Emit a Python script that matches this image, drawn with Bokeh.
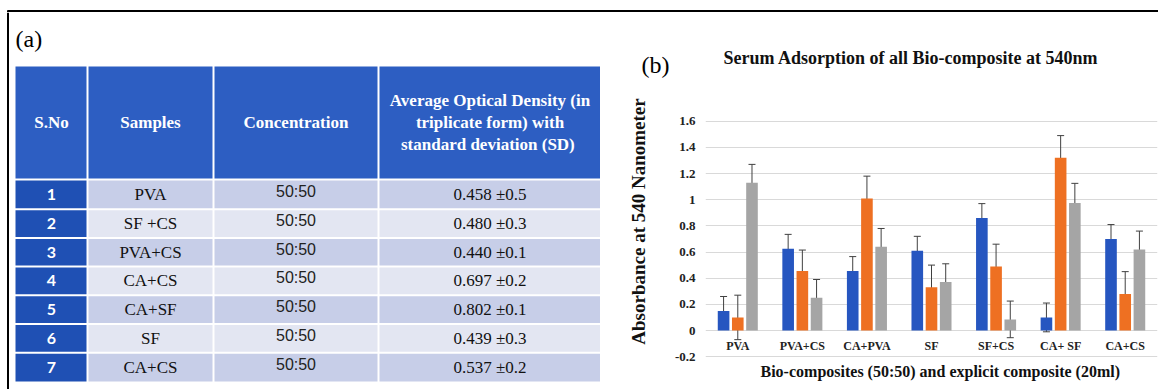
from bokeh.plotting import figure
from bokeh.models import (Range1d, FixedTicker, NumeralTickFormatter, Whisker, FactorRange,
                          ColumnDataSource, TeeHead, Title)
from bokeh.transform import dodge
from bokeh.layouts import row, column
from bokeh.core.properties import value
from bokeh.embed import file_html
from bokeh.resources import INLINE

# ---------------- data: table (a) ----------------
table_headers = ["S.No", "Samples", "Concentration"]
od_header_lines = ["Average Optical Density (in", "triplicate form) with", "standard deviation  (SD)"]
sno = ["1", "2", "3", "4", "5", "6", "7"]
samples = ["PVA", "SF +CS", "PVA+CS", "CA+CS", "CA+SF", "SF", "CA+CS"]
concentration = ["50:50", "50:50", "50:50", "50:50", "50:50", "50:50", "50:50"]
optical_density = ["0.458 \u00b10.5", "0.480 \u00b10.3", "0.440 \u00b10.1", "0.697 \u00b10.2",
                   "0.802 \u00b10.1", "0.439 \u00b10.3", "0.537 \u00b10.2"]

# ---------------- data: chart (b) ----------------
chart_title = "Serum Adsorption of all Bio-composite at 540nm"
x_label = "Bio-composites (50:50) and explicit composite (20ml)"
y_label = "Absorbance at 540 Nanometer"
categories = ["PVA", "PVA+CS", "CA+PVA", "SF", "SF+CS", "CA+ SF", "CA+CS"]
series_blue = [0.15, 0.625, 0.455, 0.61, 0.86, 0.10, 0.70]
sd_blue = [0.11, 0.11, 0.11, 0.11, 0.11, 0.11, 0.11]
series_orange = [0.10, 0.455, 1.01, 0.33, 0.49, 1.32, 0.28]
sd_orange = [0.17, 0.16, 0.17, 0.17, 0.17, 0.17, 0.17]
series_gray = [1.13, 0.25, 0.64, 0.37, 0.085, 0.975, 0.62]
sd_gray = [0.14, 0.14, 0.14, 0.14, 0.14, 0.15, 0.14]
y_ticks = [-0.2, 0.0, 0.2, 0.4, 0.6, 0.8, 1.0, 1.2, 1.4, 1.6]

SERIF = "Liberation Serif"
SANS = "Lato"

W, H = 1158, 389
STRIP_H = 12
W_T = 600
W_C = W - W_T
HEAD_BOTTOM = 82          # page y where the chart heading figure ends


def bare_fig(width, height, xr, yr):
    f = figure(width=width, height=height, x_range=xr, y_range=yr,
               x_axis_type=None, y_axis_type=None, toolbar_location=None,
               output_backend="svg", min_border=0, outline_line_color=None,
               frame_align=False)
    f.grid.visible = False
    return f


# ================= top strip (outer frame top line) =================
s = bare_fig(W, STRIP_H, Range1d(0, W), Range1d(STRIP_H, 0))
s.line(x=[7, W], y=[10.5, 10.5], line_color="black", line_width=2)
s.line(x=[7.5, 7.5], y=[10, STRIP_H], line_color="black", line_width=2)

# ================= table figure (a) =================
t = bare_fig(W_T, H - STRIP_H, Range1d(0, W_T), Range1d(H, STRIP_H))

col_edges = [15, 87, 213, 378, 601]
header_top, header_bottom = 66, 178
body_top, row_h = 180, 28.7
ncol = len(col_edges) - 1
col_centers = [(col_edges[i] + col_edges[i + 1]) / 2 for i in range(ncol)]

t.line(x=[7.5, 7.5], y=[STRIP_H, H], line_color="black", line_width=2)
t.text(x=[15], y=[38], text=["(a)"], text_font=value(SERIF), text_font_size="24px",
       text_align="left", text_baseline="middle", text_color="black")

hl = [col_edges[i] + (0 if i == 0 else 1) for i in range(ncol)]
hr = [col_edges[i + 1] - (0 if i == ncol - 1 else 1) for i in range(ncol)]
t.quad(left=hl, right=hr, top=[header_top] * ncol, bottom=[header_bottom] * ncol,
       fill_color="#2d5ec2", line_color=None)

hdr_y = (header_top + header_bottom) / 2
t.text(x=col_centers[:3], y=[hdr_y] * 3, text=table_headers, text_font=value(SERIF),
       text_font_style="bold", text_font_size="17px", text_color="white",
       text_align="center", text_baseline="middle")
t.text(x=[col_centers[3]] * 3, y=[hdr_y - 22, hdr_y, hdr_y + 22], text=od_header_lines,
       text_font=value(SERIF), text_font_style="bold", text_font_size="17px",
       text_color="white", text_align="center", text_baseline="middle")

nrow = len(sno)
L, R, T, B, C = [], [], [], [], []
for r in range(nrow):
    top = body_top + r * row_h + (0 if r == 0 else 1)
    bot = body_top + (r + 1) * row_h - (0 if r == nrow - 1 else 1)
    for c in range(ncol):
        L.append(hl[c]); R.append(hr[c]); T.append(top); B.append(bot)
        if c == 0:
            C.append("#1f50b4")
        else:
            C.append("#c7cee8" if r % 2 == 0 else "#e3e6f2")
t.quad(left=L, right=R, top=T, bottom=B, fill_color=C, line_color=None)

row_y = [body_top + (r + 0.5) * row_h for r in range(nrow)]
t.text(x=[col_centers[0]] * nrow, y=row_y, text=sno, text_font=value(SANS),
       text_font_style="bold", text_font_size="16px", text_color="white",
       text_align="center", text_baseline="middle")
t.text(x=[col_centers[1]] * nrow, y=row_y, text=samples, text_font=value(SERIF),
       text_font_size="17px", text_color="#111111", text_align="center", text_baseline="middle")
t.text(x=[col_centers[2]] * nrow, y=[v - 3 for v in row_y], text=concentration,
       text_font=value("Liberation Sans"), text_font_size="16px", text_color="#222222",
       text_align="center", text_baseline="middle")
t.text(x=[col_centers[3]] * nrow, y=row_y, text=optical_density, text_font=value(SERIF),
       text_font_size="17px", text_color="#111111", text_align="center", text_baseline="middle")

# ================= chart heading: "(b)" and title =================
h = bare_fig(W_C, HEAD_BOTTOM - STRIP_H, Range1d(W_T, W), Range1d(HEAD_BOTTOM, STRIP_H))
h.text(x=[641], y=[64], text=["(b)"], text_font=value(SERIF), text_font_size="24px",
       text_align="left", text_baseline="middle", text_color="black")
h.text(x=[723], y=[57], text=[chart_title], text_font=value(SERIF), text_font_style="bold",
       text_font_size="18px", text_align="left", text_baseline="middle", text_color="#111111")

# ================= chart figure (b) =================
zero_px, px_per_unit = 330, 130.8       # page y of 0 and pixels per unit
frame_top, frame_bottom = 84, 358       # page y of the plot frame
y_min = -(frame_bottom - zero_px) / px_per_unit
y_max = (zero_px - frame_top) / px_per_unit

p = figure(width=W_C, height=H - HEAD_BOTTOM,
           x_range=FactorRange(factors=categories, range_padding=0),
           y_range=Range1d(y_min, y_max), toolbar_location=None, output_backend="svg",
           min_border_left=105, min_border_right=1, min_border_top=frame_top - HEAD_BOTTOM,
           min_border_bottom=H - frame_bottom, outline_line_color=None, frame_align=False)

blue, orange, gray = "#2656c0", "#ee7022", "#a5a5a5"
err_col = "#404040"
offsets = [-0.22, 0.0, 0.22]
series = [(series_blue, sd_blue, blue), (series_orange, sd_orange, orange),
          (series_gray, sd_gray, gray)]
for (vals, sds, col), off in zip(series, offsets):
    src = ColumnDataSource(dict(cat=categories, val=vals,
                                upper=[v + e for v, e in zip(vals, sds)],
                                lower=[v - e for v, e in zip(vals, sds)]))
    p.vbar(x=dodge("cat", off, range=p.x_range), top="val", width=0.18, source=src,
           fill_color=col, line_color=None)
    w = Whisker(base=dodge("cat", off, range=p.x_range), upper="upper", lower="lower",
                source=src, line_color=err_col, line_width=1,
                upper_head=TeeHead(size=7, line_color=err_col, line_width=1),
                lower_head=TeeHead(size=7, line_color=err_col, line_width=1))
    p.add_layout(w)

p.xgrid.visible = False
p.ygrid.ticker = FixedTicker(ticks=y_ticks)
p.ygrid.grid_line_color = "#d9d9d9"
p.ygrid.grid_line_width = 1

p.yaxis.ticker = FixedTicker(ticks=y_ticks)
p.yaxis.formatter = NumeralTickFormatter(format="0.[0]")
p.yaxis.axis_line_color = None
p.yaxis.major_tick_line_color = None
p.yaxis.minor_tick_line_color = None
p.yaxis.major_tick_out = 0
p.yaxis.major_label_standoff = 10
p.yaxis.major_label_text_font = SERIF
p.yaxis.major_label_text_font_style = "bold"
p.yaxis.major_label_text_font_size = "13px"
p.yaxis.major_label_text_color = "#222222"
p.yaxis.axis_label = y_label
p.yaxis.axis_label_text_font = SERIF
p.yaxis.axis_label_text_font_style = "bold"
p.yaxis.axis_label_text_font_size = "19px"
p.yaxis.axis_label_text_color = "#111111"
p.yaxis.axis_label_standoff = 23

p.xaxis.fixed_location = 0
p.xaxis.axis_line_color = None
p.xaxis.major_tick_line_color = None
p.xaxis.major_tick_out = 0
p.xaxis.major_label_standoff = 8
p.xaxis.major_label_text_font = SERIF
p.xaxis.major_label_text_font_style = "bold"
p.xaxis.major_label_text_font_size = "12px"
p.xaxis.major_label_text_color = "#222222"

p.add_layout(Title(text=x_label, text_font=SERIF, text_font_style="bold",
                   text_font_size="16px", text_color="#111111", align="left",
                   offset=55, standoff=4), "below")

layout = column(s, row(t, column(h, p)))
open("out.html", "w").write(file_html(layout, INLINE))
